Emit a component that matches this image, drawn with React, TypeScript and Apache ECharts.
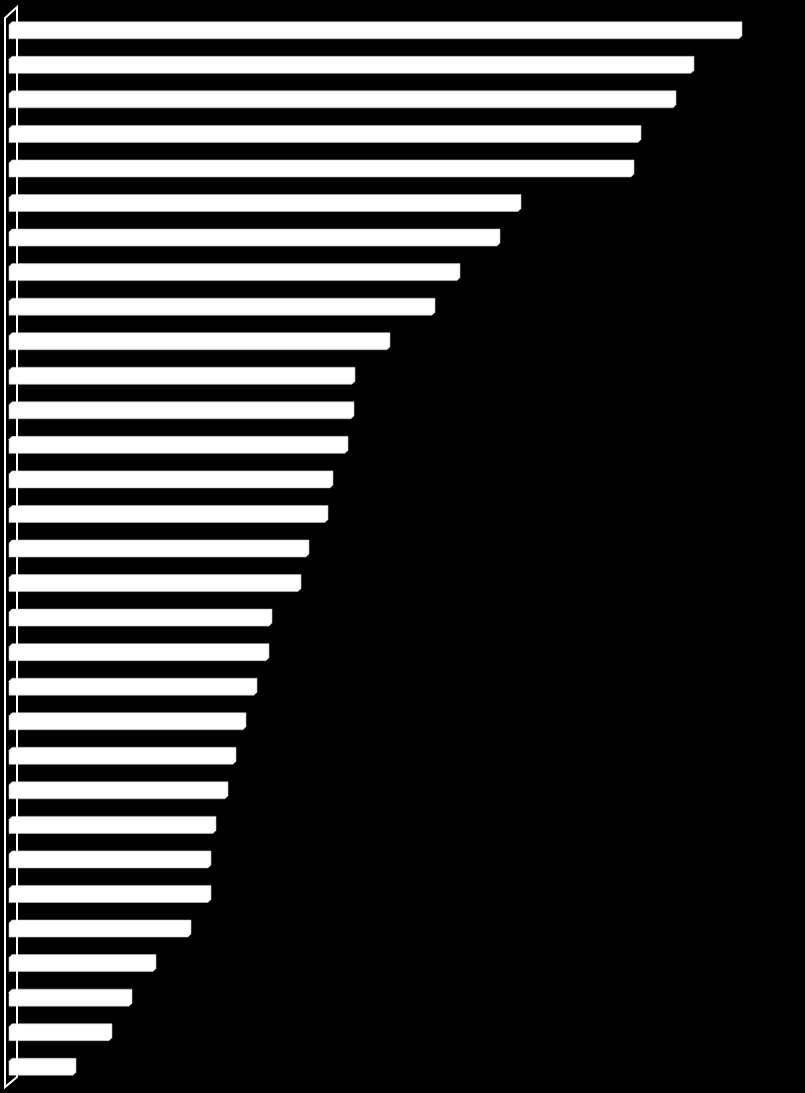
import React, { useEffect, useRef } from "react";
import * as echarts from "echarts";

const categories: string[] = Array.from({ length: 31 }, (_, i) => `Item ${i + 1}`);
const values: number[] = [
  733, 685, 667, 632, 625, 512, 491, 451, 426, 381, 346, 345, 339, 324, 319, 300,
  292, 263, 260, 248, 237, 227, 219, 207, 202, 202, 182, 147, 123, 103, 67,
];

export default function App() {
  const ref = useRef<HTMLDivElement>(null);
  useEffect(() => {
    if (!ref.current) return;
    const chart = echarts.init(ref.current, null, { renderer: "svg" });
    const barH = 17;
    const ch = 3;
    chart.setOption({
      animation: false,
      backgroundColor: "#000000",
      grid: { left: 9, top: 13, width: 780, height: 1071, containLabel: false },
      xAxis: {
        type: "value",
        min: 0,
        max: 780,
        show: false,
        splitLine: { show: false },
      },
      yAxis: {
        type: "category",
        data: categories,
        inverse: true,
        show: false,
      },
      series: [
        {
          type: "custom",
          data: values.map((v, i) => [v, i]),
          encode: { x: 0, y: 1 },
          renderItem: (params: any, api: any) => {
            const start = api.coord([0, api.value(1)]);
            const end = api.coord([api.value(0), api.value(1)]);
            const x0 = start[0];
            const x1 = end[0];
            const y0 = start[1] - barH / 2;
            const y1 = start[1] + barH / 2;
            return {
              type: "polygon",
              shape: {
                points: [
                  [x0, y0 + ch],
                  [x0 + ch, y0],
                  [x1, y0],
                  [x1, y1 - ch],
                  [x1 - ch, y1],
                  [x0, y1],
                ],
              },
              style: { fill: "#ffffff", stroke: "#bdbdbd", lineWidth: 0.6 },
            };
          },
        },
      ],
      graphic: [
        {
          type: "polygon",
          shape: {
            points: [
              [5, 18],
              [17, 7],
              [17, 1077],
              [5, 1087],
            ],
          },
          style: { fill: "none", stroke: "#ffffff", lineWidth: 2 },
          z: 10,
        },
      ],
    });
    return () => chart.dispose();
  }, []);
  return (
    <div
      ref={ref}
      style={{ position: "fixed", left: 0, top: 0, width: 805, height: 1093, background: "#000" }}
    />
  );
}
